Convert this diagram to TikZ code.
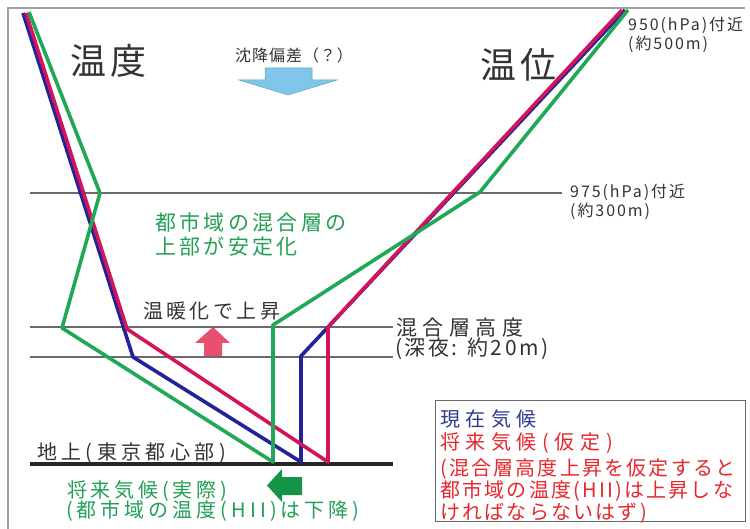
\documentclass[tikz,border=0pt]{standalone}
\usepackage{fontspec}
\setmainfont{Noto Sans CJK JP}
\newfontfamily\jp{Noto Sans CJK JP}
\definecolor{txtgray}{HTML}{333333}
\definecolor{guidegray}{HTML}{6A6A6A}
\definecolor{framegray}{HTML}{A0A0A0}
\definecolor{curblue}{HTML}{22239A}
\definecolor{futred}{HTML}{D4145A}
\definecolor{futgreen}{HTML}{1FA955}
\definecolor{txtgreen}{HTML}{22A055}
\definecolor{boxblue}{HTML}{2E3A92}
\definecolor{boxred}{HTML}{E8262C}
\definecolor{arrowpink}{HTML}{E9506E}
\definecolor{arrowgreen}{HTML}{159447}
\definecolor{arrowblue}{HTML}{80C6EA}
\newcommand\fs[2]{\fontsize{#1pt}{#1pt}\selectfont\addfontfeatures{LetterSpace=#2}}
\tikzset{
  lbl/.style={inner sep=0pt, anchor=west, text=txtgray},
  tight/.style={text height=17pt, text depth=2pt},
  guide/.style={draw=guidegray, line width=1.3pt},
  dataline/.style={line width=3.6pt, line join=round},
}
\begin{document}
\begin{tikzpicture}[x=1pt,y=-1pt]
\useasboundingbox (0,0) rectangle (750,529);
\fill[white] (0,0) rectangle (750,529);
% frame
\draw[framegray, line width=1.5pt] (8,529) -- (8,8) -- (745,8);
% guides
\draw[guide] (30,193) -- (562,193);
\draw[guide] (30,327) -- (393,327);
\draw[guide] (30,357) -- (393,357);
\draw[black!85, line width=4pt] (30,464) -- (393,464);
% coordinates
\coordinate (b0) at (23,13);
\coordinate (b1) at (133,357);
\coordinate (b2) at (301,462);
\coordinate (b3) at (301,356);
\coordinate (b4) at (625,10);
\coordinate (r0) at (26,13);
\coordinate (r1) at (127,329);
\coordinate (r2) at (328,462);
\coordinate (r3) at (328,327);
\coordinate (r4) at (622,10);
\coordinate (g0) at (29,12);
\coordinate (g1) at (100,193);
\coordinate (g2) at (62,328);
\coordinate (g3) at (273,462);
\coordinate (g4) at (273,325);
\coordinate (g5) at (480,192);
\coordinate (g6) at (628,10);
\draw[dataline, curblue] (b0) -- (b1) -- (b2) -- (b3) -- (b4);
\draw[dataline, futred] (r0) -- (r1) -- (r2) -- (r3) -- (r4);
\draw[dataline, futgreen] (g0) -- (g1) -- (g2) -- (g3) -- (g4) -- (g5) -- (g6);
% arrows
\filldraw[fill=arrowblue, draw=arrowblue!80!black, line width=0.5pt]
  (265,68) -- (312,68) -- (312,80) -- (337,80) -- (288,95) -- (239,80) -- (265,80) -- cycle;
\fill[arrowpink] (204,356) -- (222,356) -- (222,343) -- (230,343) -- (213,327) -- (195,343) -- (204,343) -- cycle;
\fill[arrowgreen] (302,477) -- (282,477) -- (282,469) -- (267,485.5) -- (282,502) -- (282,495) -- (302,495) -- cycle;
% texts
\node[lbl] (ondo) at (70,61) {\fs{36}{11}温度};
\node[lbl] (oni) at (480,65) {\fs{36}{11}温位};
\node[lbl] (chinko) at (235,55) {\fs{16}{6}沈降偏差（？）};
\node[lbl] (p950a) at (628,25) {\fs{16}{12}950(hPa)付近};
\node[lbl] (p950b) at (628,44) {\fs{16}{12}(約500m)};
\node[lbl] (p975a) at (570,192) {\fs{16}{12}975(hPa)付近};
\node[lbl] (p975b) at (570,211) {\fs{16}{12}(約300m)};
\node[lbl, text=txtgreen] (antei1) at (155,223) {\fs{21}{16}都市域の混合層の};
\node[lbl, text=txtgreen] (antei2) at (155,247) {\fs{21}{16}上部が安定化};
\node[lbl] (ondan) at (143,311) {\fs{20}{17}温暖化で上昇};
\node[lbl, tight] (kongo1) at (396,328) {\fs{21}{26}混合層高度};
\node[lbl, tight] (kongo2) at (395,348) {\fs{21}{12}(深夜: 約20m)};
\node[lbl] (chijo) at (37,453) {\fs{20}{22}地上(東京都心部)};
\node[lbl, text=txtgreen] (jissai1) at (67,491) {\fs{20}{19}将来気候(実際)};
\node[lbl, text=txtgreen] (jissai2) at (66,511) {\fs{20}{20}(都市域の温度(HII)は下降)};
% legend box
\node[draw=guidegray, line width=1.2pt, minimum width=310pt, minimum height=121pt, anchor=north west, inner sep=0pt] (legend) at (435,400) {};
\node[lbl, text=boxblue] (genzai) at (440,419) {\fs{20}{28}現在気候};
\node[lbl, text=boxred] (katei) at (440,443) {\fs{20}{28}将来気候(仮定)};
\node[lbl, text=boxred] (kl3) at (440,469) {\fs{20}{11}(混合層高度上昇を仮定すると};
\node[lbl, text=boxred] (kl4) at (440,491) {\fs{20}{11}都市域の温度(HII)は上昇しな};
\node[lbl, text=boxred] (kl5) at (440,513) {\fs{20}{11}ければならないはず)};
\end{tikzpicture}
\end{document}
